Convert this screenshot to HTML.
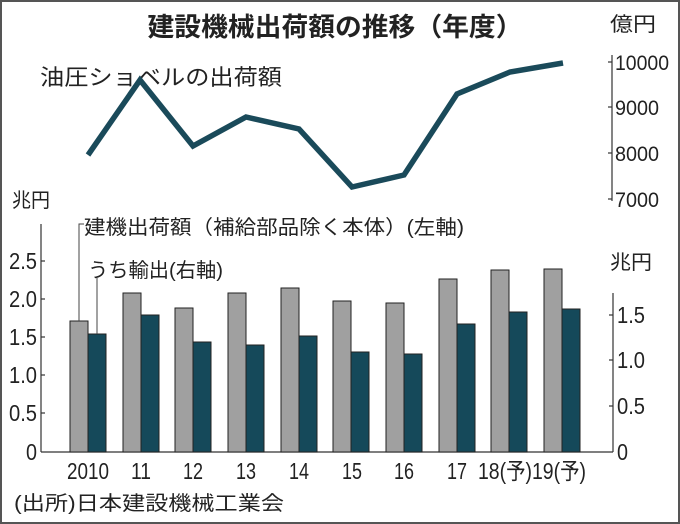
<!DOCTYPE html>
<html><head><meta charset="utf-8"><style>
html,body{margin:0;padding:0;background:#fff}
svg{display:block}
text{font-family:"Liberation Sans","Noto Sans CJK JP",sans-serif;fill:#222}
</style></head><body>
<svg width="680" height="524" viewBox="0 0 680 524" xmlns="http://www.w3.org/2000/svg">
<rect x="1" y="1" width="678" height="522" fill="#fff" stroke="#555" stroke-width="2"/>
<text x="335" y="36" font-size="26" font-weight="bold" text-anchor="middle" textLength="375" lengthAdjust="spacingAndGlyphs">建設機械出荷額の推移（年度）</text>
<text x="610" y="31" font-size="20" textLength="46" lengthAdjust="spacingAndGlyphs">億円</text>
<text x="40" y="85" font-size="22" textLength="242" lengthAdjust="spacingAndGlyphs">油圧ショベルの出荷額</text>
<line x1="612" y1="55" x2="612" y2="201" stroke="#333" stroke-width="1.2"/>
<g stroke="#333" stroke-width="1.2">
<line x1="608" y1="62" x2="612" y2="62"/><line x1="608" y1="107" x2="612" y2="107"/><line x1="608" y1="153" x2="612" y2="153"/><line x1="608" y1="199" x2="612" y2="199"/></g>
<g font-size="21">
<text x="615" y="70" textLength="54" lengthAdjust="spacingAndGlyphs">10000</text>
<text x="615" y="115" textLength="44" lengthAdjust="spacingAndGlyphs">9000</text>
<text x="615" y="161" textLength="44" lengthAdjust="spacingAndGlyphs">8000</text>
<text x="615" y="207" textLength="44" lengthAdjust="spacingAndGlyphs">7000</text>
</g>
<polyline points="88,155 140,80 193,146 246,117 299,129 352,187 404,175 457,94 510,72 563,63" fill="none" stroke="#1a4a5a" stroke-width="5.5" stroke-linejoin="miter"/>
<text x="12" y="207" font-size="20" textLength="38" lengthAdjust="spacingAndGlyphs">兆円</text>
<text x="610" y="269" font-size="20" textLength="42" lengthAdjust="spacingAndGlyphs">兆円</text>
<line x1="41" y1="224" x2="41" y2="452" stroke="#333" stroke-width="1.2"/>
<line x1="41" y1="452" x2="613" y2="452" stroke="#333" stroke-width="1.2"/>
<line x1="613" y1="293" x2="613" y2="452" stroke="#333" stroke-width="1.2"/>
<g stroke="#333" stroke-width="1.2">
<line x1="41" y1="261" x2="45" y2="261"/><line x1="41" y1="299" x2="45" y2="299"/><line x1="41" y1="337" x2="45" y2="337"/><line x1="41" y1="375" x2="45" y2="375"/><line x1="41" y1="413" x2="45" y2="413"/>
<line x1="609" y1="315" x2="613" y2="315"/><line x1="609" y1="360" x2="613" y2="360"/><line x1="609" y1="406" x2="613" y2="406"/>
</g>
<g font-size="23" text-anchor="end">
<text x="37" y="269" textLength="28" lengthAdjust="spacingAndGlyphs">2.5</text>
<text x="37" y="307" textLength="28" lengthAdjust="spacingAndGlyphs">2.0</text>
<text x="37" y="345" textLength="28" lengthAdjust="spacingAndGlyphs">1.5</text>
<text x="37" y="383" textLength="28" lengthAdjust="spacingAndGlyphs">1.0</text>
<text x="37" y="421" textLength="28" lengthAdjust="spacingAndGlyphs">0.5</text>
<text x="37" y="460" textLength="11" lengthAdjust="spacingAndGlyphs">0</text>
</g>
<g font-size="23">
<text x="617" y="323" textLength="28" lengthAdjust="spacingAndGlyphs">1.5</text>
<text x="617" y="368" textLength="28" lengthAdjust="spacingAndGlyphs">1.0</text>
<text x="617" y="414" textLength="28" lengthAdjust="spacingAndGlyphs">0.5</text>
<text x="617" y="460" textLength="11" lengthAdjust="spacingAndGlyphs">0</text>
</g>
<g stroke="#222" stroke-width="1">
<rect x="70" y="321" width="18" height="131" fill="#a0a0a0"/><rect x="88" y="334" width="18" height="118" fill="#15495a"/>
<rect x="123" y="293" width="18" height="159" fill="#a0a0a0"/><rect x="141" y="315" width="18" height="137" fill="#15495a"/>
<rect x="175" y="308" width="18" height="144" fill="#a0a0a0"/><rect x="193" y="342" width="18" height="110" fill="#15495a"/>
<rect x="228" y="293" width="18" height="159" fill="#a0a0a0"/><rect x="246" y="345" width="18" height="107" fill="#15495a"/>
<rect x="281" y="288" width="18" height="164" fill="#a0a0a0"/><rect x="299" y="336" width="18" height="116" fill="#15495a"/>
<rect x="333" y="301" width="18" height="151" fill="#a0a0a0"/><rect x="351" y="352" width="18" height="100" fill="#15495a"/>
<rect x="386" y="303" width="18" height="149" fill="#a0a0a0"/><rect x="404" y="354" width="18" height="98" fill="#15495a"/>
<rect x="439" y="279" width="18" height="173" fill="#a0a0a0"/><rect x="457" y="324" width="18" height="128" fill="#15495a"/>
<rect x="491" y="270" width="18" height="182" fill="#a0a0a0"/><rect x="509" y="312" width="18" height="140" fill="#15495a"/>
<rect x="544" y="269" width="18" height="183" fill="#a0a0a0"/><rect x="562" y="309" width="18" height="143" fill="#15495a"/>
</g>
<polyline points="79,321 79,224 84,224" fill="none" stroke="#444" stroke-width="1"/>
<polyline points="97,334 97,278" fill="none" stroke="#444" stroke-width="1"/>
<text x="84" y="234" font-size="20" textLength="380" lengthAdjust="spacingAndGlyphs">建機出荷額（補給部品除く本体）(左軸)</text>
<text x="88" y="277" font-size="20" textLength="135" lengthAdjust="spacingAndGlyphs">うち輸出(右軸)</text>
<g font-size="23" text-anchor="middle">
<text x="88" y="479" textLength="42" lengthAdjust="spacingAndGlyphs">2010</text>
<text x="141" y="479" textLength="20" lengthAdjust="spacingAndGlyphs">11</text>
<text x="193" y="479" textLength="20" lengthAdjust="spacingAndGlyphs">12</text>
<text x="246" y="479" textLength="20" lengthAdjust="spacingAndGlyphs">13</text>
<text x="299" y="479" textLength="20" lengthAdjust="spacingAndGlyphs">14</text>
<text x="352" y="479" textLength="20" lengthAdjust="spacingAndGlyphs">15</text>
<text x="404" y="479" textLength="20" lengthAdjust="spacingAndGlyphs">16</text>
<text x="457" y="479" textLength="20" lengthAdjust="spacingAndGlyphs">17</text>
<text x="505" y="479" textLength="54" lengthAdjust="spacingAndGlyphs">18(予)</text>
<text x="559" y="479" textLength="54" lengthAdjust="spacingAndGlyphs">19(予)</text>
</g>
<text x="14" y="510" font-size="20" textLength="270" lengthAdjust="spacingAndGlyphs">(出所)日本建設機械工業会</text>
</svg>
</body></html>
